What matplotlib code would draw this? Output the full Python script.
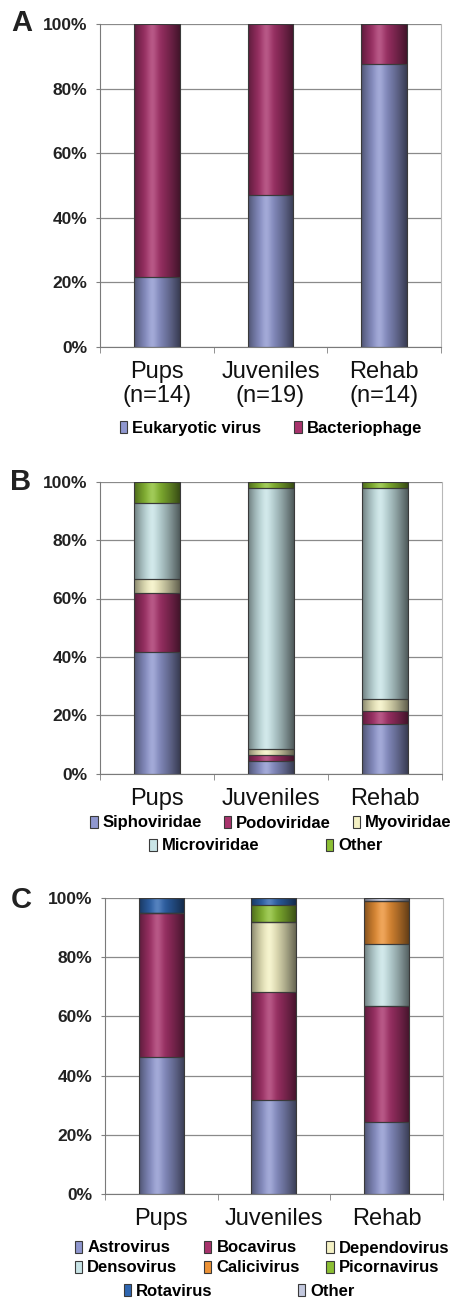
import numpy as np
import matplotlib
matplotlib.use('Agg')
import matplotlib.pyplot as plt
from matplotlib.patches import Patch
from matplotlib.colors import to_rgb

plt.rcParams['font.family'] = ['Liberation Sans', 'DejaVu Sans']

# ---- data (percent of reads) ----
groups = ['Pups', 'Juveniles', 'Rehab']
groupsA = ['Pups\n(n=14)', 'Juveniles\n(n=19)', 'Rehab\n(n=14)']

# A: eukaryotic virus vs bacteriophage
eukaryotic = [21.7, 47.1, 87.5]
bacteriophage = [78.3, 52.9, 12.5]

# B: phage families
sipho = [41.8, 4.5, 16.9]
podo = [20.0, 1.9, 4.7]
myo = [4.9, 2.0, 4.1]
micro = [26.1, 89.6, 72.3]
otherB = [7.2, 2.0, 2.0]

# C: eukaryotic virus groups
astro = [46.4, 31.8, 24.3]
boca = [48.3, 36.5, 39.3]
dependo = [0.0, 23.6, 0.0]
denso = [0.0, 0.0, 20.8]
calici = [0.0, 0.0, 14.6]
picorna = [0.0, 5.6, 0.0]
rota = [5.3, 2.5, 0.0]
otherC = [0.0, 0.0, 1.0]

# colours
c_blue = '#8f97cf'
c_red = '#a8336c'
c_yellow = '#f4f1c4'
c_cyan = '#c8e4e6'
c_green = '#8cbf34'
c_orange = '#ec9236'
c_rota = '#2f66b0'
c_other = '#c3c8de'

W, H = 459, 1301
fig = plt.figure(figsize=(W / 100, H / 100), dpi=100)


def fx(px):
  return px / W


def fy(py):
  return 1 - py / H


def shade(ax, rects, color):
  # cylinder-like shading like the old Excel bars
  t = np.linspace(0, 1, 64)
  d = np.where(t < 0.4, 0.45 * ((0.4 - t) / 0.4) ** 1.6, 0.6 * ((t - 0.4) / 0.6) ** 1.3)
  h = 0.18 * np.exp(-((t - 0.4) / 0.12) ** 2)
  base = np.array(to_rgb(color))
  img = base[None, :] * (1 - d[:, None]) + h[:, None] * (1 - base[None, :])
  img = np.clip(img, 0, 1)[None, :, :]
  for r in rects:
    if r.get_height() <= 0:
      continue
    x0, y0 = r.get_x(), r.get_y()
    ax.imshow(img, extent=[x0, x0 + r.get_width(), y0, y0 + r.get_height()],
              aspect='auto', interpolation='bilinear', zorder=2.5)


def stacked(ax, series, colors, labels):
  x = np.arange(len(groups))
  bottom = np.zeros(len(groups))
  handles = []
  for vals, col, lab in zip(series, colors, labels):
    vals = np.array(vals)
    bars = ax.bar(x, vals, 0.4, bottom=bottom, color=col, zorder=2, linewidth=0)
    shade(ax, bars, col)
    ax.bar(x, vals, 0.4, bottom=bottom, fill=False, edgecolor='#3a3a3a', linewidth=0.8, zorder=3)
    bottom = bottom + vals
    handles.append(Patch(facecolor=col, edgecolor='#3a3a3a', linewidth=0.8, label=lab))
  return handles


def style(ax, ticklabels):
  ax.set_xlim(-0.5, 2.5)
  ax.set_ylim(0, 100)
  ax.set_yticks([0, 20, 40, 60, 80, 100])
  ax.set_yticklabels(['0%', '20%', '40%', '60%', '80%', '100%'], fontsize=12.5, fontweight='bold', color='#222222')
  ax.set_xticks([0, 1, 2])
  ax.set_xticklabels(ticklabels, fontsize=17, color='#111111', linespacing=1.1)
  ax.set_xticks([-0.5, 0.5, 1.5, 2.5], minor=True)
  ax.tick_params(axis='x', which='major', length=0, pad=10)
  ax.tick_params(axis='x', which='minor', length=4, color='#808080', direction='out')
  ax.tick_params(axis='y', length=3, color='#808080', pad=6)
  ax.grid(axis='y', color='#8a8a8a', linewidth=0.9, zorder=1)
  ax.set_axisbelow(True)
  for s in ['left', 'bottom']:
    ax.spines[s].set_color('#7a7a7a')
  for s in ['top', 'right']:
    ax.spines[s].set_color('#b8b8b8')
  ax.spines['top'].set_visible(False)


leg_kw = dict(frameon=False, handlelength=0.45, handleheight=0.75, handletextpad=0.3,
              borderaxespad=0, borderpad=0,
              prop={'family': ['Liberation Sans', 'DejaVu Sans'], 'weight': 'bold', 'size': 12})

# ---- Panel A ----
axA = fig.add_axes([fx(100), fy(347), fx(341), 323 / H])
hA = stacked(axA, [eukaryotic, bacteriophage], [c_blue, c_red], ['Eukaryotic virus', 'Bacteriophage'])
style(axA, groupsA)
fig.legend(handles=hA, loc='center', bbox_to_anchor=(fx(271), fy(428)), ncol=2, columnspacing=2.0, **leg_kw)
fig.text(fx(11), fy(23), 'A', fontsize=21, fontweight='bold', va='center', ha='left', color='#222222')

# ---- Panel B ----
axB = fig.add_axes([fx(100), fy(773.7), fx(342), 292 / H])
hB = stacked(axB, [sipho, podo, myo, micro, otherB],
             [c_blue, c_red, c_yellow, c_cyan, c_green],
             ['Siphoviridae', 'Podoviridae', 'Myoviridae', 'Microviridae', 'Other'])
style(axB, groups)
fig.legend(handles=hB[:3], loc='center', bbox_to_anchor=(fx(271), fy(823)), ncol=3, columnspacing=1.3, **leg_kw)
fig.legend(handles=hB[3:], loc='center', bbox_to_anchor=(fx(266), fy(846)), ncol=2, columnspacing=4.0, **leg_kw)
fig.text(fx(10), fy(482), 'B', fontsize=21, fontweight='bold', va='center', ha='left', color='#222222')

# ---- Panel C ----
axC = fig.add_axes([fx(105), fy(1194.3), fx(337.7), 296.6 / H])
hC = stacked(axC, [astro, boca, dependo, denso, calici, picorna, rota, otherC],
             [c_blue, c_red, c_yellow, c_cyan, c_orange, c_green, c_rota, c_other],
             ['Astrovirus', 'Bocavirus', 'Dependovirus', 'Densovirus', 'Calicivirus',
              'Picornavirus', 'Rotavirus', 'Other'])
style(axC, groups)
# excel-like row order: reorder for column-major fill
rows12 = [hC[0], hC[3], hC[1], hC[4], hC[2], hC[5]]
fig.legend(handles=rows12, loc='center', bbox_to_anchor=(fx(262), fy(1258)), ncol=3, columnspacing=1.6,
           labelspacing=0.3, **leg_kw)
fig.legend(handles=hC[6:], loc='center', bbox_to_anchor=(fx(239), fy(1291.5)), ncol=2, columnspacing=5.1, **leg_kw)
fig.text(fx(11), fy(900), 'C', fontsize=21, fontweight='bold', va='center', ha='left', color='#222222')

fig.savefig('out.png', dpi=100)
